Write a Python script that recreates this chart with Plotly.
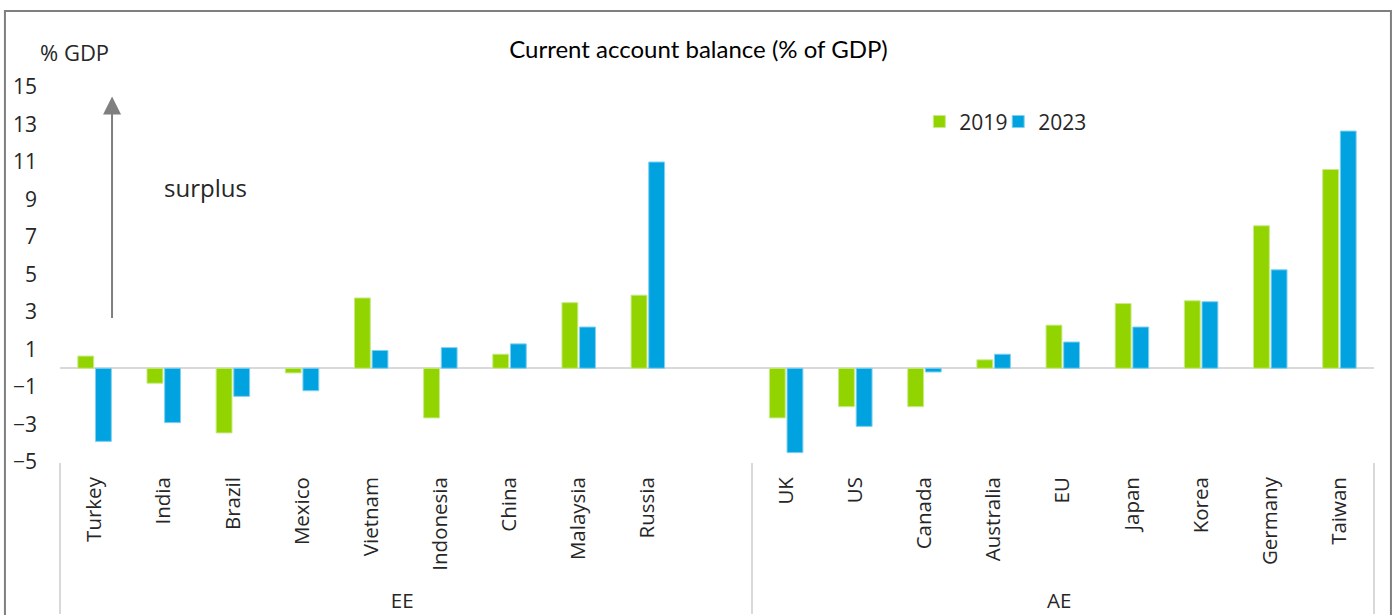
import plotly.graph_objects as go

# ---- data ----
ee_countries = ["Turkey", "India", "Brazil", "Mexico", "Vietnam", "Indonesia", "China", "Malaysia", "Russia"]
ee_2019 = [0.65, -0.8, -3.45, -0.25, 3.75, -2.65, 0.75, 3.5, 3.9]
ee_2023 = [-3.9, -2.9, -1.5, -1.2, 0.95, 1.1, 1.3, 2.2, 11.0]

ae_countries = ["UK", "US", "Canada", "Australia", "EU", "Japan", "Korea", "Germany", "Taiwan"]
ae_2019 = [-2.65, -2.05, -2.05, 0.45, 2.3, 3.45, 3.6, 7.6, 10.6]
ae_2023 = [-4.5, -3.1, -0.2, 0.75, 1.4, 2.2, 3.55, 5.25, 12.65]

group_ee = "EE"
group_ae = "AE"
spacer = "\u00a0" * 19  # blank gap category between the two groups
years = ["2019", "2023"]
y_ticks = [-5, -3, -1, 1, 3, 5, 7, 9, 11, 13, 15]

# ---- build multicategory x ----
outer = [group_ee] * (len(ee_countries) + 1) + [group_ae] * len(ae_countries)
inner = ee_countries + [spacer] + ae_countries
v2019 = ee_2019 + [None] + ae_2019
v2023 = ee_2023 + [None] + ae_2023

green = "#92D400"
blue = "#00A3E0"
font_family = "Open Sans, Noto Sans, sans-serif"
text_color = "#262626"

fig = go.Figure()
fig.add_trace(go.Bar(x=[outer, inner], y=v2019, name=years[0], legend="legend",
                     marker=dict(color=green, line=dict(color="#c9ea8a", width=1))))
fig.add_trace(go.Bar(x=[outer, inner], y=v2023, name=years[1], legend="legend2",
                     marker=dict(color=blue, line=dict(color="#80d1ef", width=1))))

legend_style = dict(orientation="h", y=0.907, xanchor="left", yanchor="middle",
                    font=dict(size=21, color=text_color), bgcolor="rgba(0,0,0,0)",
                    itemwidth=30)

fig.update_layout(
    width=1397, height=615,
    margin=dict(l=60, r=23, t=87, b=153),
    paper_bgcolor="white", plot_bgcolor="white",
    barmode="group", bargap=0.49, bargroupgap=0.1,
    font=dict(family=font_family, size=21, color=text_color),
    title=dict(text="Current account balance (% of GDP)", xref="container", yref="container",
               x=0.5, y=1 - 50 / 615, xanchor="center", yanchor="middle",
               font=dict(family="Lato, Open Sans, sans-serif", size=24, color="#000000")),
    showlegend=True,
    legend=dict(x=0.654, **legend_style),
    legend2=dict(x=0.714, **legend_style),
    xaxis=dict(type="multicategory", showgrid=False, showline=False, ticks="",
               tickangle=-90, tickfont=dict(size=20.5, color=text_color),
               ticklabelstandoff=10, automargin=False,
               showdividers=True, dividercolor="#d9d9d9", dividerwidth=2,
               zeroline=False),
    yaxis=dict(range=[-5, 15], tickvals=y_ticks, showgrid=False, showline=False,
               zeroline=True, zerolinecolor="#d9d9d9", zerolinewidth=2, automargin=False,
               ticks="", ticklabelstandoff=22, tickfont=dict(size=21, color=text_color)),
)

# axis unit label
fig.add_annotation(text="% GDP", xref="paper", yref="paper", x=-0.0165, y=1.093,
                   xanchor="left", yanchor="middle", showarrow=False,
                   font=dict(size=22, color=text_color))
# surplus label + arrow
fig.add_annotation(text="surplus", xref="paper", yref="paper", x=0.0775, y=0.7307,
                   xanchor="left", yanchor="middle", showarrow=False,
                   font=dict(size=24, color=text_color))
fig.add_annotation(text="", xref="paper", yref="y", x=0.0396, y=14.5,
                   axref="pixel", ayref="pixel", ax=0, ay=223,
                   showarrow=True, arrowhead=2, arrowsize=1.8, arrowwidth=2,
                   arrowcolor="#7f7f7f")

# outer border (bottom edge lies below the visible page)
fig.add_shape(type="rect", xref="paper", yref="paper",
              x0=-0.0419, x1=1.0129, y0=-1.0, y1=1.2027,
              line=dict(color="#7f7f7f", width=2), fillcolor="rgba(0,0,0,0)", layer="below")

fig.write_html("out.html")
